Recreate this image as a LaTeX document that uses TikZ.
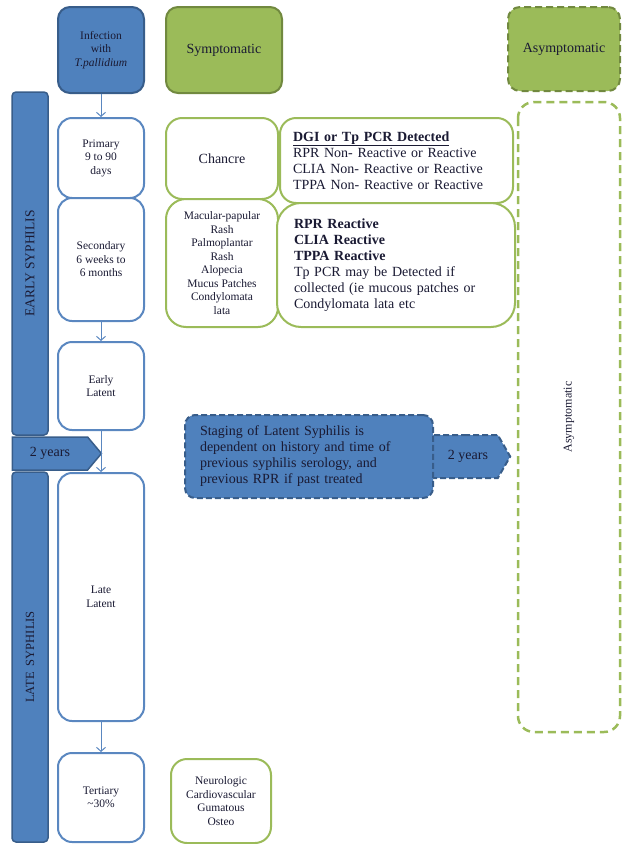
\documentclass[tikz,border=0pt]{standalone}
\usepackage{fontspec}
\setmainfont{Liberation Serif}
\usetikzlibrary{arrows.meta,shapes.symbols}
\definecolor{fblue}{HTML}{4F81BD}
\definecolor{dblue}{HTML}{385D8A}
\definecolor{lblue}{HTML}{5A87C0}
\definecolor{fgreen}{HTML}{9BBB59}
\definecolor{dgreen}{HTML}{71893F}
\definecolor{txt}{HTML}{1A1A33}
\newcommand\fsm{\fontsize{11.5}{13.5}\selectfont}
\newcommand\fbig{\fontsize{14}{16}\selectfont}
\tikzset{
  base/.style={rectangle, inner sep=0pt, align=center, text=txt},
  wbox/.style={base, draw=lblue, line width=2pt, fill=white, rounded corners=14pt, font=\fsm},
  gbox/.style={base, draw=fgreen, line width=2pt, fill=white, rounded corners=16pt},
  bluefill/.style={base, draw=dblue, line width=2pt, fill=fblue, rounded corners=12pt},
  greenfill/.style={base, draw=dgreen, line width=2pt, fill=fgreen, rounded corners=12pt, font=\fbig},
  barbox/.style={base, draw=dblue, line width=1.5pt, fill=fblue, rounded corners=4pt, rotate=90},
  arr/.style={draw=lblue, line width=1pt, -{Straight Barb[length=4pt,width=9pt]}},
  sig/.style={signal, signal to=east, inner sep=0pt, fill=fblue, text=txt, font=\fbig},
}
\begin{document}
\begin{tikzpicture}[x=1pt,y=-1pt]
\useasboundingbox (0,0) rectangle (625,844);
% top row
\node[bluefill, minimum width=86pt, minimum height=86pt, font=\fsm] (infection) at (101,50) {Infection\\with\\\textit{T.pallidium}};
\node[greenfill, minimum width=116pt, minimum height=86pt] (symp) at (224,50) {Symptomatic};
\node[greenfill, dash pattern=on 7pt off 4pt, minimum width=112pt, minimum height=84pt] (asymp) at (564,49) {Asymptomatic};
% bars
\node[barbox, minimum width=343pt, minimum height=36pt, font=\fontsize{13.5}{15}\selectfont] (early) at (30,263.5) {EARLY SYPHILIS};
\node[barbox, minimum width=370pt, minimum height=36pt, font=\fontsize{12.5}{14}\selectfont] (late) at (30,657) {LATE\ \ SYPHILIS};
\node[sig, draw=dblue, line width=1.5pt, signal pointer angle=100, minimum width=89pt, minimum height=33pt] (twoL) at (50,453.5) {2 years};
% left column
\node[wbox, minimum width=86pt, minimum height=80pt] (primary) at (101,158) {Primary\\9 to 90\\days};
\node[wbox, minimum width=86pt, minimum height=123pt] (secondary) at (101,259.5) {Secondary\\6 weeks to\\6 months};
\node[wbox, minimum width=86pt, minimum height=88pt] (elatent) at (101,386) {Early\\Latent};
\node[wbox, minimum width=86pt, minimum height=248pt] (llatent) at (101,597) {Late\\Latent};
\node[wbox, minimum width=86pt, minimum height=89pt] (tertiary) at (101,797.5) {Tertiary\\\textasciitilde30\%};
% middle column
\node[gbox, minimum width=112pt, minimum height=81pt, font=\fbig] (chancre) at (222,158.5) {Chancre};
\node[gbox, rounded corners=20pt, minimum width=112pt, minimum height=128pt, font=\fsm] (rash) at (222,263) {Macular-papular\\Rash\\Palmoplantar\\Rash\\Alopecia\\Mucus Patches\\Condylomata\\lata};
\node[gbox, minimum width=100pt, minimum height=84pt, font=\fsm] (neuro) at (221,801) {Neurologic\\Cardiovascular\\Gumatous\\Osteo};
% serology boxes
\node[gbox, align=left, text width=207pt, inner xsep=13pt, minimum height=85pt, font=\fbig] (dgi) at (396.5,160.5) {\underline{\textbf{DGI or Tp PCR Detected}}\\RPR Non- Reactive or Reactive\\CLIA Non- Reactive or Reactive\\TPPA Non- Reactive or Reactive};
\node[gbox, rounded corners=24pt, align=left, text width=204pt, inner xsep=17pt, minimum height=124pt, font=\fbig] (rpr) at (396,265) {\textbf{RPR Reactive}\\\textbf{CLIA Reactive}\\\textbf{TPPA Reactive}\\Tp PCR may be Detected if\\collected (ie mucous patches or\\Condylomata lata etc};
% right long dashed box
\node[base, draw=fgreen, line width=2.5pt, dash pattern=on 8pt off 5pt, rounded corners=16pt, minimum width=630pt, minimum height=102pt, rotate=90, font=\fontsize{12}{14}\selectfont] (asyl) at (569,417) {Asymptomatic};
% staging callout
\node[sig, draw=dblue, line width=2pt, dash pattern=on 6pt off 3pt, signal pointer angle=120, minimum width=80pt, minimum height=43pt] (twoR) at (464,456.5) {\hspace*{8pt}2 years};
\node[bluefill, rounded corners=10pt, dash pattern=on 6pt off 3pt, align=left, text width=218pt, inner xsep=15pt, minimum height=83pt, font=\fbig] (staging) at (309,456.5) {Staging of Latent Syphilis is\\dependent on history and time of\\previous syphilis serology, and\\previous RPR if past treated};
% connectors
\draw[arr] (infection.south) -- (primary.north);
\draw[arr] (secondary.south) -- (elatent.north);
\draw[arr] (elatent.south) -- (llatent.north);
\draw[arr] (llatent.south) -- (tertiary.north);
\end{tikzpicture}
\end{document}
